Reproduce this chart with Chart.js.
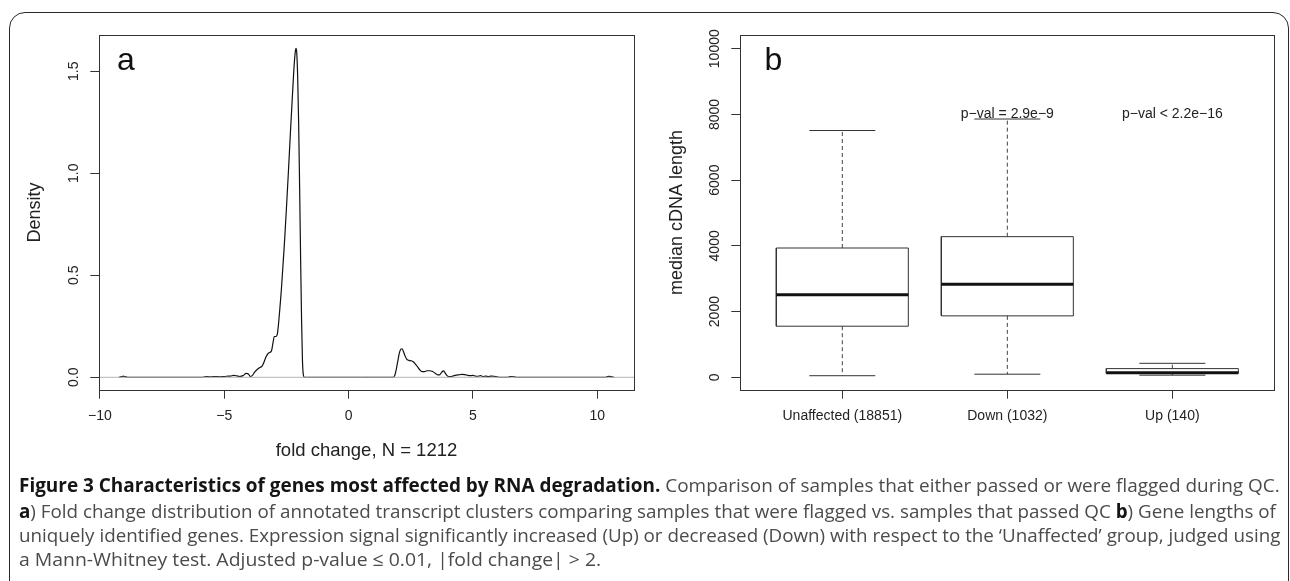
<!DOCTYPE html>
<html><head><meta charset="utf-8">
<script src="https://cdn.jsdelivr.net/npm/chart.js@4.4.1/dist/chart.umd.min.js"></script>
<style>
html,body{margin:0;padding:0;background:#fff;width:1290px;height:581px;overflow:hidden;position:relative;}
#frame{position:absolute;left:8.5px;top:12px;width:1280px;height:640px;border:1.5px solid #2a2a2a;border-radius:16px;box-sizing:border-box;}
canvas{position:absolute;left:0;top:0;}
.cap{position:absolute;left:19px;white-space:nowrap;font-family:"Open Sans";font-size:19px;line-height:24px;color:#4b4b4b;transform-origin:0 0;}
.cap b{color:#151515;font-weight:700;}
</style></head>
<body>
<div id="frame"></div>
<canvas id="ca" width="1290" height="581"></canvas>
<canvas id="cb" width="1290" height="581"></canvas>
<div class="cap" id="l1" style="top:473px" data-w="1261"><b>Figure 3 Characteristics of genes most affected by RNA degradation.</b> Comparison of samples that either passed or were flagged during QC.</div>
<div class="cap" id="l2" style="top:499px" data-w="1257"><b>a</b>) Fold change distribution of annotated transcript clusters comparing samples that were flagged vs. samples that passed QC <b>b</b>) Gene lengths of</div>
<div class="cap" id="l3" style="top:523px" data-w="1261">uniquely identified genes. Expression signal significantly increased (Up) or decreased (Down) with respect to the ‘Unaffected’ group, judged using</div>
<div class="cap" id="l4" style="top:547px" data-w="582">a Mann-Whitney test. Adjusted p-value ≤ 0.01, |fold change| &gt; 2.</div>
<script>
// ---- Panel a data: density of fold change ----
const foldX = [-9.24,-9.2,-9.12,-9.06,-9.0,-8.92,-8.88,-5.9,-5.8,-5.72,-5.6,-5.45,-5.3,-5.18,-5.05,-4.9,-4.75,-4.62,-4.5,-4.38,-4.25,-4.12,-4.03,-3.95,-3.88,-3.78,-3.68,-3.57,-3.48,-3.4,-3.33,-3.25,-3.17,-3.1,-3.04,-2.99,-2.93,-2.87,-2.82,-2.77,-2.71,-2.65,-2.58,-2.5,-2.42,-2.34,-2.26,-2.19,-2.14,-2.115,-2.085,-2.05,-2.01,-1.97,-1.93,-1.89,-1.855,-1.82,-1.78,1.8,1.86,1.92,1.98,2.04,2.1,2.15,2.2,2.26,2.33,2.42,2.52,2.6,2.68,2.77,2.86,2.95,3.05,3.15,3.27,3.38,3.48,3.58,3.66,3.74,3.81,3.88,3.96,4.05,4.15,4.28,4.42,4.56,4.68,4.8,4.9,5.0,5.1,5.2,5.3,5.4,5.52,5.62,5.72,5.82,5.92,6.02,6.1,6.38,6.48,6.58,6.68,6.76,10.32,10.4,10.48,10.56,10.64,10.68];
const density = [0,0.0005,0.003,0.0055,0.003,0.0005,0,0,0.002,0.004,0.002,0.003,0.004,0.002,0.003,0.005,0.006,0.009,0.007,0.004,0.008,0.019,0.016,0.004,0.008,0.025,0.038,0.048,0.055,0.075,0.098,0.115,0.122,0.13,0.17,0.2,0.2,0.21,0.26,0.33,0.42,0.53,0.66,0.83,1.01,1.2,1.38,1.53,1.6,1.613,1.59,1.48,1.25,0.93,0.58,0.27,0.08,0.012,0,0,0.01,0.04,0.08,0.118,0.138,0.14,0.128,0.108,0.09,0.083,0.081,0.076,0.066,0.052,0.037,0.028,0.028,0.032,0.032,0.028,0.02,0.012,0.012,0.024,0.031,0.022,0.008,0.003,0.004,0.009,0.012,0.014,0.013,0.009,0.008,0.009,0.006,0.005,0.008,0.004,0.006,0.003,0.006,0.005,0.004,0.001,0,0,0.003,0.004,0.002,0,0,0.003,0.0045,0.003,0.0005,0];
const aXTickVals = [-10,-5,0,5,10];
const aXTickLabels = ["\u221210","\u22125","0","5","10"];
const aYTickVals = [0,0.5,1,1.5];
const aYTickLabels = ["0.0","0.5","1.0","1.5"];

// ---- Panel b data: boxplots of median cDNA length ----
const groups = ["Unaffected (18851)","Down (1032)","Up (140)"];
const whiskerLow  = [49, 95, 65];
const boxLow      = [1555, 1870, 120];
const medians     = [2514, 2830, 140];
const boxHigh     = [3935, 4280, 265];
const whiskerHigh = [7510, 7860, 426];
const pLabels = ["", "p\u2212val = 2.9e\u22129", "p\u2212val < 2.2e\u221216"];
const pLabelY = 8000;
const bYTickVals = [0,2000,4000,6000,8000,10000];
const bYTickLabels = ["0","2000","4000","6000","8000","10000"];

Chart.defaults.font.family = '"Liberation Sans", Arial, sans-serif';
Chart.defaults.color = '#222';

const AX = {min:-10.04, max:11.48}, AY = {min:-0.0623, max:1.678};
const BX = {min:0.38, max:3.616}, BY = {min:-386, max:10417};
const ink = '#333';

function drawFrame(chart){
  const {ctx, chartArea:a} = chart;
  ctx.save(); ctx.strokeStyle = ink; ctx.lineWidth = 1;
  const l = Math.round(a.left-0.5)+0.5, t = Math.round(a.top-0.5)+0.5;
  ctx.strokeRect(l, t, Math.round(a.right-a.left), Math.round(a.bottom-a.top));
  ctx.restore();
}
function drawYLabels(chart, vals, labels){
  const s = chart.scales.y, ctx = chart.ctx;
  ctx.save(); ctx.font = '14px "Liberation Sans"'; ctx.fillStyle = '#222';
  ctx.textAlign = 'center'; ctx.textBaseline = 'middle';
  vals.forEach((v,i)=>{
    ctx.save(); ctx.translate(chart.chartArea.left - 25, s.getPixelForValue(v));
    ctx.rotate(-Math.PI/2); ctx.fillText(labels[i], 0, 0); ctx.restore();
  });
  ctx.restore();
}
function drawLetter(chart, txt, dx){
  const ctx = chart.ctx, a = chart.chartArea;
  ctx.save(); ctx.font = '32px "Liberation Sans"'; ctx.fillStyle = '#111';
  ctx.textAlign = 'left'; ctx.textBaseline = 'alphabetic';
  ctx.fillText(txt, a.left + dx, a.top + 34.5); ctx.restore();
}
function xScaleOpts(lim, vals, labels, title){
  return {
    type:'linear', min:lim.min, max:lim.max,
    afterBuildTicks: s => { s.ticks = vals.map(v=>({value:v})); },
    ticks:{callback:(v)=>labels[vals.indexOf(v)], font:{size:14}, color:'#222', padding:9.5, maxRotation:0, minRotation:0, autoSkip:false},
    grid:{drawOnChartArea:false, drawTicks:true, tickLength:8.7, tickColor:ink, color:ink},
    border:{display:true, color:ink, width:1},
    title: title ? {display:true, text:title, font:{size:18.5}, color:'#222', padding:{top:0,bottom:8.2}} : {display:false},
    afterFit: s => { s.height = 80; }
  };
}
function yScaleOpts(lim, vals, title, tpad, w){
  return {
    type:'linear', min:lim.min, max:lim.max,
    afterBuildTicks: s => { s.ticks = vals.map(v=>({value:v})); },
    ticks:{display:false},
    grid:{drawOnChartArea:false, drawTicks:true, tickLength:8.7, tickColor:ink, color:ink},
    border:{display:true, color:ink, width:1},
    title:{display:true, text:title, font:{size:18}, color:'#222', padding:{top:tpad,bottom:0}},
    afterFit: s => { s.width = w; }
  };
}
const common = {responsive:false, animation:false, events:[], plugins:{legend:{display:false}, tooltip:{enabled:false}}};

// ---- Chart a ----
new Chart(document.getElementById('ca'), {
  type:'scatter',
  data:{datasets:[
    {data:[{x:AX.min,y:0},{x:AX.max,y:0}], showLine:true, borderColor:'#b3b3b3', borderWidth:1, pointRadius:0, order:0},
    {data:foldX.map((x,i)=>({x, y:density[i]})), showLine:true, borderColor:'#111', borderWidth:1.2, pointRadius:0, cubicInterpolationMode:'monotone', order:1}
  ]},
  options:Object.assign({}, common, {
    layout:{padding:{left:10, right:656, top:35, bottom:111}},
    scales:{
      x: xScaleOpts(AX, aXTickVals, aXTickLabels, 'fold change, N = 1212'),
      y: yScaleOpts(AY, aYTickVals, 'Density', 14.2, 89)
    }
  }),
  plugins:[{id:'extA', afterDraw(chart){ drawFrame(chart); drawYLabels(chart, aYTickVals, aYTickLabels); drawLetter(chart, 'a', 18); }}]
});

// ---- Chart b ----
const HB = 0.4, HC = 0.2;
function seg(points, opts){
  return Object.assign({data:points.map(p=>({x:p[0], y:p[1]})), showLine:true, pointRadius:0, borderColor:ink, borderWidth:1, tension:0, borderCapStyle:'butt', fill:false}, opts);
}
const bDatasets = [];
groups.forEach((g,i)=>{
  const c = i + 1;
  bDatasets.push(seg([[c-HB,medians[i]],[c+HB,medians[i]]], {borderColor:'#111', borderWidth:3, order:0}));
  bDatasets.push(seg([[c-HB,boxLow[i]],[c+HB,boxLow[i]],[c+HB,boxHigh[i]],[c-HB,boxHigh[i]],[c-HB,boxLow[i]]], {order:1}));
  bDatasets.push(seg([[c,boxHigh[i]],[c,whiskerHigh[i]]], {borderDash:[4,3], borderColor:'#444', order:2}));
  bDatasets.push(seg([[c,boxLow[i]],[c,whiskerLow[i]]], {borderDash:[4,3], borderColor:'#444', order:2}));
  bDatasets.push(seg([[c-HC,whiskerHigh[i]],[c+HC,whiskerHigh[i]]], {order:1}));
  bDatasets.push(seg([[c-HC,whiskerLow[i]],[c+HC,whiskerLow[i]]], {order:1}));
});
new Chart(document.getElementById('cb'), {
  type:'scatter',
  data:{datasets:bDatasets},
  options:Object.assign({}, common, {
    layout:{padding:{left:650, right:16, top:35, bottom:111}},
    scales:{
      x: xScaleOpts(BX, [1,2,3], groups, null),
      y: yScaleOpts(BY, bYTickVals, 'median cDNA length', 16.5, 90)
    }
  }),
  plugins:[{id:'extB', afterDraw(chart){
    drawFrame(chart); drawYLabels(chart, bYTickVals, bYTickLabels); drawLetter(chart, 'b', 24.5);
    const ctx = chart.ctx, sx = chart.scales.x, sy = chart.scales.y;
    ctx.save(); ctx.font = '14px "Liberation Sans"'; ctx.fillStyle = '#222'; ctx.textAlign='center'; ctx.textBaseline='middle';
    pLabels.forEach((t,i)=>{ if(t) ctx.fillText(t, sx.getPixelForValue(i+1), sy.getPixelForValue(pLabelY)); });
    ctx.restore();
  }}]
});

// ---- caption line fitting ----
document.querySelectorAll('.cap').forEach(el=>{
  const w = parseFloat(el.dataset.w);
  el.style.transform = 'scaleX(' + (w / el.offsetWidth) + ')';
});
</script>
</body></html>
